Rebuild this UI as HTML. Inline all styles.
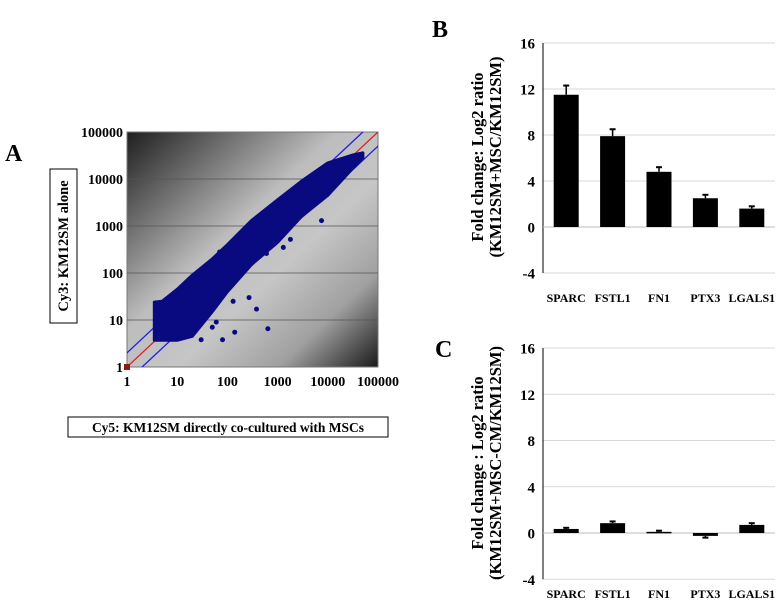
<!DOCTYPE html>
<html><head><meta charset="utf-8">
<style>
html,body{margin:0;padding:0;background:#fff;}
svg{display:block;font-family:"Liberation Serif",serif;font-weight:bold;}
</style></head>
<body>
<svg id="fig" width="783" height="608" viewBox="0 0 783 608" xmlns="http://www.w3.org/2000/svg">
<defs>
<linearGradient id="bg" x1="0" y1="0" x2="1" y2="1">
<stop offset="0" stop-color="#1e1e1e"/>
<stop offset="0.42" stop-color="#bdbdbd"/>
<stop offset="0.6" stop-color="#c6c6c6"/>
<stop offset="0.8" stop-color="#a0a0a0"/>
<stop offset="1" stop-color="#1a1a1a"/>
</linearGradient>
</defs>
<text x="5" y="161" font-size="24">A</text>
<text x="432" y="37" font-size="24">B</text>
<text x="435" y="357" font-size="24">C</text>
<g id="pa"></g>
<g id="pb"></g>
<g id="pc"></g>
</svg>
<script>
// Panel A data (log-log scatter envelope + outliers)
const envX = [3.5, 5, 10, 20, 50, 100, 300, 1000, 3000, 10000, 30000, 50000];
const envLo = [3.7, 3.7, 3.7, 4.5, 15, 40, 150, 450, 1600, 4500, 16000, 28000];
const envHi = [24, 25, 45, 90, 200, 400, 1300, 3600, 9000, 22000, 32000, 36000];
const outX = [30, 80, 60, 130, 380, 640, 7500, 270, 35, 12, 140, 1800, 1300, 50, 70, 25, 2500, 600];
const outY = [3.8, 3.8, 9, 25, 17, 6.5, 1300, 30, 55, 50, 5.5, 520, 350, 7, 280, 100, 7000, 260];
const axisTicksA = [1, 10, 100, 1000, 10000, 100000];
// Panel B data
const categories = ["SPARC", "FSTL1", "FN1", "PTX3", "LGALS1"];
const valuesB = [11.5, 7.9, 4.8, 2.5, 1.6];
const errB = [0.8, 0.6, 0.4, 0.3, 0.2];
// Panel C data
const valuesC = [0.35, 0.85, 0.1, -0.25, 0.7];
const errC = [0.1, 0.15, 0.1, 0.15, 0.15];
const barTicks = [-4, 0, 4, 8, 12, 16];

const NS = "http://www.w3.org/2000/svg";
function mk(parent, tag, attrs, text) {
  const e = document.createElementNS(NS, tag);
  for (const k in attrs) e.setAttribute(k, attrs[k]);
  if (text !== undefined) e.textContent = text;
  parent.appendChild(e);
  return e;
}

// ---------- Panel A ----------
(function () {
  const g = document.getElementById('pa');
  const L = 127, R = 378, T = 132, B = 367;
  const sx = v => L + Math.log10(v) / 5 * (R - L);
  const sy = v => B - Math.log10(v) / 5 * (B - T);
  let r = mk(g, 'rect', { x: L, y: T, width: R - L, height: B - T, fill: 'url(#bg)', stroke: '#777', 'stroke-width': 1 });
  
  
  axisTicksA.forEach(t => {
    if (t > 1 && t < 100000) {
      const l = mk(g, 'line', { x1: L, x2: R, y1: sy(t), y2: sy(t), stroke: '#555', 'stroke-width': 0.8 });
      
      
    }
    const ty = mk(g, 'text', { x: 123, y: sy(t) + 5, 'font-size': 14, 'text-anchor': 'end' }, String(t));
    
    
    const tx = mk(g, 'text', { x: sx(t), y: 386, 'font-size': 14, 'text-anchor': 'middle' }, String(t));
    
    
  });
  const cp = mk(g, 'clipPath', { id: 'clipA' });
  mk(cp, 'rect', { x: L, y: T, width: R - L, height: B - T });
  const inner = mk(g, 'g', { 'clip-path': 'url(#clipA)' });
  const lines = [[1, '#e02020', 'identity-line'], [2, '#2020e0', 'upper-2fold-line'], [0.5, '#2020e0', 'lower-2fold-line']];
  lines.forEach(([f, col, nm]) => {
    const l = mk(inner, 'line', { x1: sx(0.1), y1: sy(0.1 * f), x2: sx(1e6), y2: sy(1e6 * f), stroke: col, 'stroke-width': 1.3 });
    
    
  });
  let pts = [];
  envX.forEach((x, i) => pts.push(sx(x) + ',' + sy(envHi[i])));
  for (let i = envX.length - 1; i >= 0; i--) pts.push(sx(envX[i]) + ',' + sy(envLo[i]));
  const band = mk(inner, 'polygon', { points: pts.join(' '), fill: '#0a0a80', stroke: '#0a0a80', 'stroke-width': 3, 'stroke-linejoin': 'round' });
  
  
  outX.forEach((x, i) => {
    const c = mk(inner, 'circle', { cx: sx(x), cy: sy(outY[i]), r: 2.5, fill: '#0a0a80' });
    
    
  });
  const m = mk(g, 'rect', { x: sx(1) - 3, y: sy(1) - 3, width: 6, height: 6, fill: '#8b1a1a' });
  
  
  const yb = mk(g, 'rect', { x: 50, y: 169, width: 27, height: 154, fill: '#fff', stroke: '#000', 'stroke-width': 1 });
  
  
  const yt = mk(g, 'text', { x: 0, y: 0, 'font-size': 14.5, 'text-anchor': 'middle', transform: 'translate(68,246) rotate(-90)' }, 'Cy3: KM12SM alone');
  
  
  const xb = mk(g, 'rect', { x: 68, y: 417, width: 320, height: 20, fill: '#fff', stroke: '#000', 'stroke-width': 1 });
  
  
  const xt = mk(g, 'text', { x: 228, y: 432, 'font-size': 13.5, 'text-anchor': 'middle' }, 'Cy5: KM12SM directly co-cultured with MSCs');
  
  
})();

// ---------- Bar panels ----------
function barChart(id, vals, errs, y16, y0, titleLines, titleCy, labelY) {
  const g = document.getElementById(id);
  const L = 543, R = 775;
  const k = (y0 - y16) / 16;
  const sy = v => y0 - v * k;
  const slot = (R - L) / categories.length;
  barTicks.forEach(t => {
    const l = mk(g, 'line', { x1: L, x2: R, y1: sy(t), y2: sy(t), stroke: '#d9d9d9', 'stroke-width': 1 });
    
    
    const tl = mk(g, 'text', { x: 535, y: sy(t) + 5.5, 'font-size': 15, 'text-anchor': 'end' }, String(t));
    
    
  });
  const ax = mk(g, 'line', { x1: L, x2: L, y1: sy(16), y2: sy(-4), stroke: '#000', 'stroke-width': 1 });
  
  
  const zl = mk(g, 'line', { x1: L, x2: R, y1: sy(0), y2: sy(0), stroke: '#bbb', 'stroke-width': 1 });
  
  
  vals.forEach((v, i) => {
    const cx = L + slot * (i + 0.5);
    const w = 25;
    const top = Math.min(sy(v), sy(0)), h = Math.abs(sy(v) - sy(0));
    const b = mk(g, 'rect', { x: cx - w / 2, y: top, width: w, height: Math.max(h, 1.5), fill: '#000' });
    
    
    const ev = v + (v >= 0 ? errs[i] : -errs[i]);
    const e = mk(g, 'line', { x1: cx, x2: cx, y1: sy(v), y2: sy(ev), stroke: '#000', 'stroke-width': 1.5 });
    
    
    const c = mk(g, 'line', { x1: cx - 3, x2: cx + 3, y1: sy(ev), y2: sy(ev), stroke: '#000', 'stroke-width': 2 });
    
    
    const lab = mk(g, 'text', { x: cx, y: labelY, 'font-size': 12, 'text-anchor': 'middle' }, categories[i]);
    
    
  });
  titleLines.forEach((t, j) => {
    const tt = mk(g, 'text', { x: 0, y: 0, 'font-size': 16.5, 'text-anchor': 'middle', transform: 'translate(' + (483 + j * 18) + ',' + titleCy + ') rotate(-90)' }, t);
    
    
  });
}
barChart('pb', valuesB, errB, 43, 227, ['Fold change: Log2 ratio', '(KM12SM+MSC/KM12SM)'], 157, 302);
barChart('pc', valuesC, errC, 348, 533, ['Fold change : Log2 ratio', '(KM12SM+MSC-CM/KM12SM)'], 463, 598);
</script>
</body></html>
